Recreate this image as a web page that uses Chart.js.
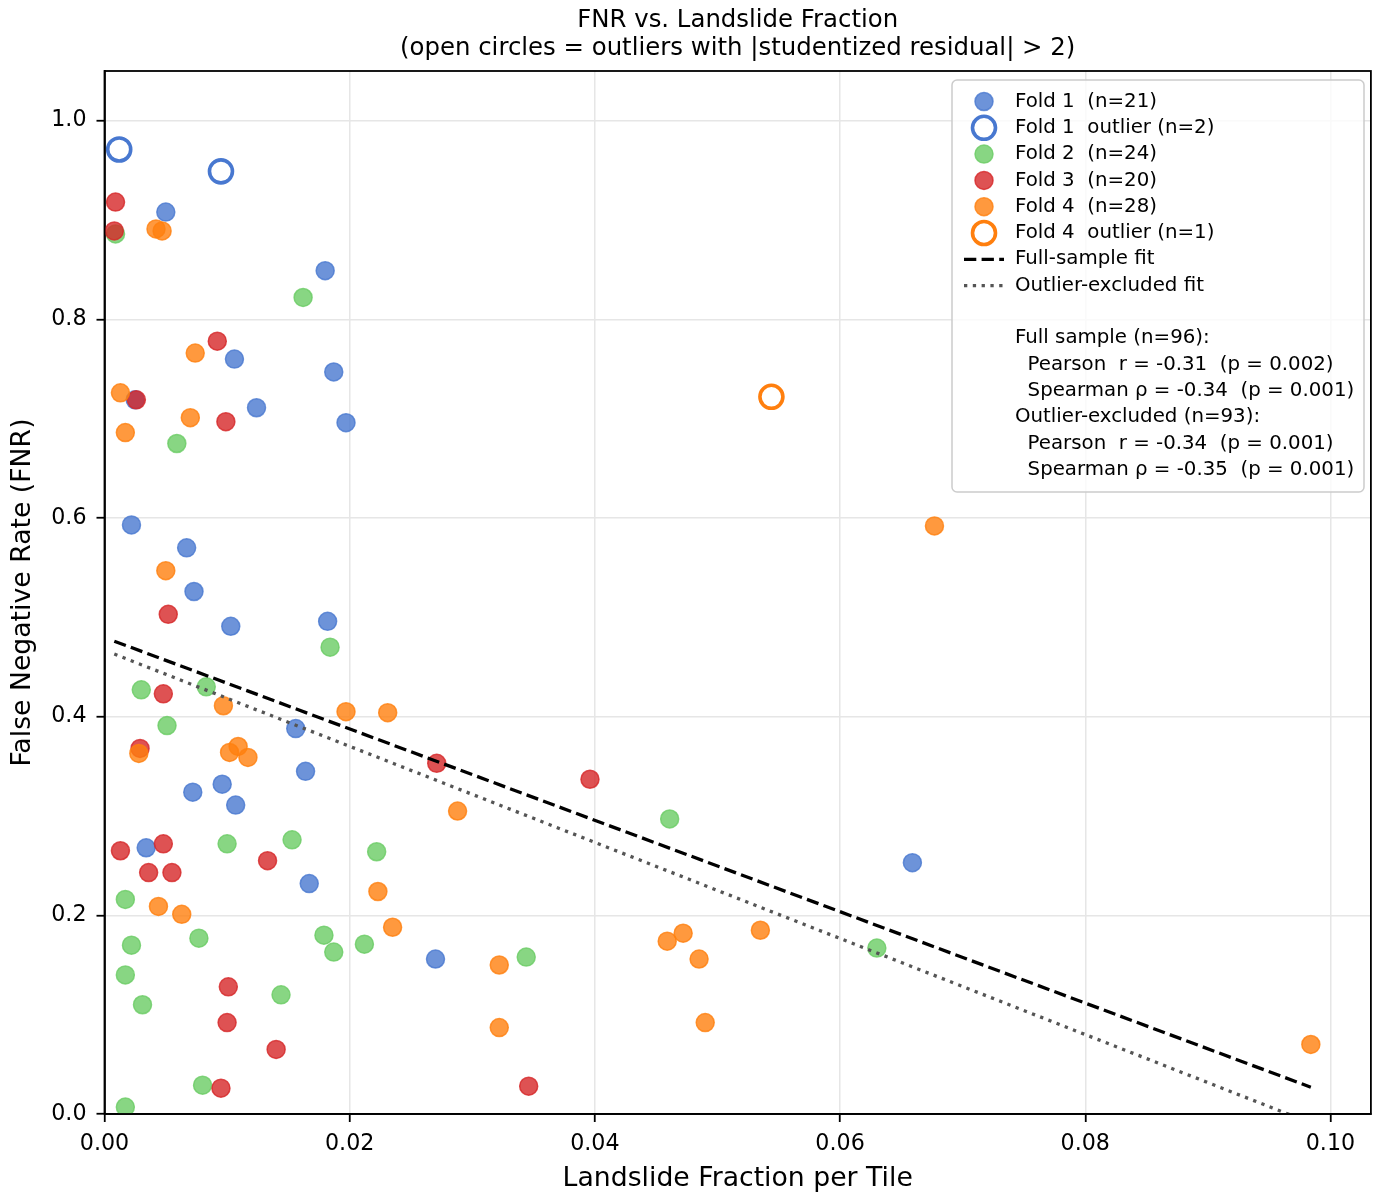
<!DOCTYPE html>
<html>
<head>
<meta charset="utf-8">
<title>FNR vs. Landslide Fraction</title>
<script src="https://cdn.jsdelivr.net/npm/chart.js@4.4.1/dist/chart.umd.min.js"></script>
<style>
  html, body { margin: 0; padding: 0; background: #fff; }
  #wrap { width: 1386px; height: 1202px; position: relative; }
</style>
</head>
<body>
<div id="wrap"><canvas id="fnrChart"></canvas></div>
<script>
// values
const fold1X = [0.0050, 0.0180, 0.0106, 0.0187, 0.0124, 0.0197, 0.0022, 0.0067, 0.0073, 0.0103, 0.0182,
    0.0156, 0.0164, 0.0096, 0.0072, 0.0107, 0.0034, 0.0167, 0.0270, 0.0659, 0.0025];
const fold1Y = [0.908, 0.849, 0.760, 0.747, 0.711, 0.696, 0.593, 0.570, 0.526, 0.491, 0.496,
    0.388, 0.345, 0.332, 0.324, 0.311, 0.268, 0.232, 0.156, 0.253, 0.719];
const fold1OutX = [0.0012, 0.0095];
const fold1OutY = [0.971, 0.949];

const fold2X = [0.0009, 0.0162, 0.0059, 0.0184, 0.0030, 0.0083, 0.0051, 0.0461, 0.0153, 0.0100, 0.0222, 0.0017,
    0.0077, 0.0179, 0.0022, 0.0212, 0.0187, 0.0344, 0.0630, 0.0017, 0.0031, 0.0144, 0.0080, 0.0017];
const fold2Y = [0.886, 0.822, 0.675, 0.470, 0.427, 0.430, 0.391, 0.297, 0.276, 0.272, 0.264, 0.216,
    0.177, 0.180, 0.170, 0.171, 0.163, 0.158, 0.167, 0.140, 0.110, 0.120, 0.029, 0.007];

const fold3X = [0.0009, 0.0008, 0.0092, 0.0026, 0.0099, 0.0052, 0.0048, 0.0029, 0.0271, 0.0396,
    0.0048, 0.0013, 0.0133, 0.0036, 0.0055, 0.0101, 0.0100, 0.0140, 0.0095, 0.0346];
const fold3Y = [0.918, 0.889, 0.778, 0.719, 0.697, 0.503, 0.423, 0.368, 0.353, 0.337,
    0.272, 0.265, 0.255, 0.243, 0.243, 0.128, 0.092, 0.065, 0.026, 0.028];

const fold4X = [0.0042, 0.0047, 0.0074, 0.0013, 0.0070, 0.0017, 0.0050, 0.0097, 0.0197, 0.0231, 0.0109, 0.0102,
    0.0117, 0.0028, 0.0288, 0.0044, 0.0063, 0.0223, 0.0235, 0.0459, 0.0472, 0.0485, 0.0535, 0.0322,
    0.0322, 0.0490, 0.0677, 0.0984];
const fold4Y = [0.891, 0.889, 0.766, 0.726, 0.701, 0.686, 0.547, 0.411, 0.405, 0.404, 0.370, 0.364,
    0.359, 0.363, 0.305, 0.209, 0.201, 0.224, 0.188, 0.174, 0.182, 0.156, 0.185, 0.150,
    0.087, 0.092, 0.592, 0.070];
const fold4OutX = [0.0544];
const fold4OutY = [0.722];

// fit line end points
const fitX = [0.0008, 0.0984];
const fullFitY = [0.476, 0.027];
const exclFitY = [0.463, -0.009];

const xTicks = [0, 0.02, 0.04, 0.06, 0.08, 0.10];
const yTicks = [0, 0.2, 0.4, 0.6, 0.8, 1.0];

const titleLines = ['FNR vs. Landslide Fraction', '(open circles = outliers with |studentized residual| > 2)'];
const statLines = [
    'Full sample (n=96):',
    '  Pearson  r = -0.31  (p = 0.002)',
    '  Spearman \u03c1 = -0.34  (p = 0.001)',
    'Outlier-excluded (n=93):',
    '  Pearson  r = -0.34  (p = 0.001)',
    '  Spearman \u03c1 = -0.35  (p = 0.001)'
];

const FONT = "'DejaVu Sans', 'Liberation Sans', sans-serif";
const BLUE = '#4878d0';
const GREEN = '#6acc64';
const RED = '#d62728';
const ORANGE = '#ff7f0e';

const withAlpha = (hex, a) => {
    const n = parseInt(hex.slice(1), 16);
    return 'rgba(' + ((n >> 16) & 255) + ',' + ((n >> 8) & 255) + ',' + (n & 255) + ',' + a + ')';
}

const toPoints = (xs, ys) => xs.map((x, i) => ({ x: x, y: ys[i] }));

const filledSet = (label, xs, ys, color, order) => ({
    label: label,
    data: toPoints(xs, ys),
    backgroundColor: withAlpha(color, 0.8),
    borderColor: withAlpha(color, 0.8),
    borderWidth: 1.5,
    pointRadius: 9,
    pointHoverRadius: 9,
    order: order,
    clip: 0,
    kind: 'filled'
});

const outlierSet = (label, xs, ys, color, order) => ({
    label: label,
    data: toPoints(xs, ys),
    backgroundColor: 'rgba(255,255,255,0)',
    borderColor: color,
    borderWidth: 3.6,
    pointRadius: 11.5,
    pointHoverRadius: 11.5,
    order: order,
    clip: 0,
    kind: 'open'
});

const lineSet = (label, ys, color, dash, order) => ({
    label: label,
    data: toPoints(fitX, ys),
    showLine: true,
    borderColor: color,
    backgroundColor: color,
    borderWidth: 3.3,
    borderDash: dash,
    borderCapStyle: 'butt',
    pointRadius: 0,
    pointHoverRadius: 0,
    fill: false,
    order: order,
    clip: 0,
    kind: 'line'
});

// two line title centred over the plotting area
const titleText = {
    id: 'titleText',
    afterDraw(chart) {
        const { ctx, chartArea } = chart;
        const cx = (chartArea.left + chartArea.right) / 2;
        ctx.save();
        ctx.font = '24.4px ' + FONT;
        ctx.fillStyle = '#000';
        ctx.textAlign = 'center';
        ctx.textBaseline = 'middle';
        titleLines.forEach((line, i) => {
            ctx.fillText(line, cx, 21 + i * 28);
        });
        ctx.restore();
    }
};

// spines around the plotting area
const frameBox = {
    id: 'frameBox',
    afterDatasetsDraw(chart) {
        const { ctx, chartArea } = chart;
        ctx.save();
        ctx.strokeStyle = '#000';
        ctx.lineWidth = 1.8;
        ctx.strokeRect(chartArea.left, chartArea.top, chartArea.right - chartArea.left, chartArea.bottom - chartArea.top);
        ctx.restore();
    }
};

// matplotlib style legend in the upper right corner
const legendBox = {
    id: 'legendBox',
    afterDraw(chart) {
        const ctx = chart.ctx;
        const boxLeft = 952;
        const boxRight = 1364;
        const boxTop = 80;
        const boxBottom = 492;
        const rowH = 26.3;
        const firstRow = 101.5;
        const markX = 984;
        const textX = 1015;

        ctx.save();
        ctx.beginPath();
        ctx.roundRect(boxLeft, boxTop, boxRight - boxLeft, boxBottom - boxTop, 5);
        ctx.fillStyle = 'rgba(255,255,255,0.8)';
        ctx.fill();
        ctx.strokeStyle = '#cccccc';
        ctx.lineWidth = 1.5;
        ctx.stroke();

        ctx.font = '19.8px ' + FONT;
        ctx.textBaseline = 'middle';
        ctx.textAlign = 'left';

        let row = 0;
        chart.data.datasets.forEach((ds) => {
            const y = firstRow + row * rowH;
            if (ds.kind === 'line') {
                ctx.beginPath();
                ctx.setLineDash(ds.borderDash);
                ctx.lineCap = 'butt';
                ctx.strokeStyle = ds.borderColor;
                ctx.lineWidth = ds.borderWidth;
                ctx.moveTo(markX - 20, y);
                ctx.lineTo(markX + 20, y);
                ctx.stroke();
                ctx.setLineDash([]);
            } else {
                ctx.beginPath();
                ctx.arc(markX, y, ds.pointRadius, 0, Math.PI * 2);
                ctx.fillStyle = ds.backgroundColor;
                ctx.fill();
                ctx.strokeStyle = ds.borderColor;
                ctx.lineWidth = ds.borderWidth;
                ctx.stroke();
            }
            ctx.fillStyle = '#000';
            ctx.fillText(ds.label, textX, y);
            row++;
        });

        row++; // blank line before the stats block
        statLines.forEach((line) => {
            ctx.fillStyle = '#000';
            ctx.fillText(line, textX, firstRow + row * rowH);
            row++;
        });
        ctx.restore();
    }
};

const drawChart = () => {
    new Chart('fnrChart', {
        type: 'scatter',
        data: {
            datasets: [
                filledSet('Fold 1  (n=21)', fold1X, fold1Y, BLUE, 8),
                outlierSet('Fold 1  outlier (n=2)', fold1OutX, fold1OutY, BLUE, 3),
                filledSet('Fold 2  (n=24)', fold2X, fold2Y, GREEN, 7),
                filledSet('Fold 3  (n=20)', fold3X, fold3Y, RED, 6),
                filledSet('Fold 4  (n=28)', fold4X, fold4Y, ORANGE, 5),
                outlierSet('Fold 4  outlier (n=1)', fold4OutX, fold4OutY, ORANGE, 2),
                lineSet('Full-sample fit', fullFitY, '#000000', [12.3, 5.3], 1),
                lineSet('Outlier-excluded fit', exclFitY, '#555555', [3.3, 5.5], 0)
            ]
        },
        options: {
            responsive: true,
            maintainAspectRatio: false,
            animation: false,
            events: [],
            layout: { padding: { left: 0, right: 12, top: 71, bottom: 0 } },
            plugins: {
                legend: { display: false },
                tooltip: { enabled: false },
                title: { display: false }
            },
            scales: {
                x: {
                    type: 'linear',
                    min: 0,
                    max: 0.1033,
                    afterBuildTicks: (scale) => {
                        scale.ticks = xTicks.map((v) => ({ value: v }));
                    },
                    afterFit: (scale) => { scale.height = 88; },
                    ticks: {
                        color: '#000',
                        padding: 9,
                        font: { family: FONT, size: 22.2 },
                        callback: (v) => Number(v).toFixed(2)
                    },
                    grid: {
                        color: '#e6e6e6',
                        lineWidth: 1.5,
                        tickColor: '#000',
                        tickLength: 8,
                        tickWidth: 1.8
                    },
                    border: { display: true, color: '#000', width: 1.8 },
                    title: {
                        display: true,
                        text: 'Landslide Fraction per Tile',
                        color: '#000',
                        font: { family: FONT, size: 26.7, lineHeight: 1.2 },
                        padding: { top: 0, bottom: 7 }
                    }
                },
                y: {
                    type: 'linear',
                    min: 0,
                    max: 1.05,
                    afterBuildTicks: (scale) => {
                        scale.ticks = yTicks.map((v) => ({ value: v }));
                    },
                    afterFit: (scale) => { scale.width = 104.5; },
                    ticks: {
                        color: '#000',
                        padding: 10,
                        font: { family: FONT, size: 22.2 },
                        callback: (v) => Number(v).toFixed(1)
                    },
                    grid: {
                        color: '#e6e6e6',
                        lineWidth: 1.5,
                        tickColor: '#000',
                        tickLength: 8,
                        tickWidth: 1.8
                    },
                    border: { display: true, color: '#000', width: 1.8 },
                    title: {
                        display: true,
                        text: 'False Negative Rate (FNR)',
                        color: '#000',
                        font: { family: FONT, size: 26.7, lineHeight: 1.2 },
                        padding: { top: 7, bottom: 0 }
                    }
                }
            }
        },
        plugins: [frameBox, legendBox, titleText]
    });
}

drawChart();
</script>
</body>
</html>
